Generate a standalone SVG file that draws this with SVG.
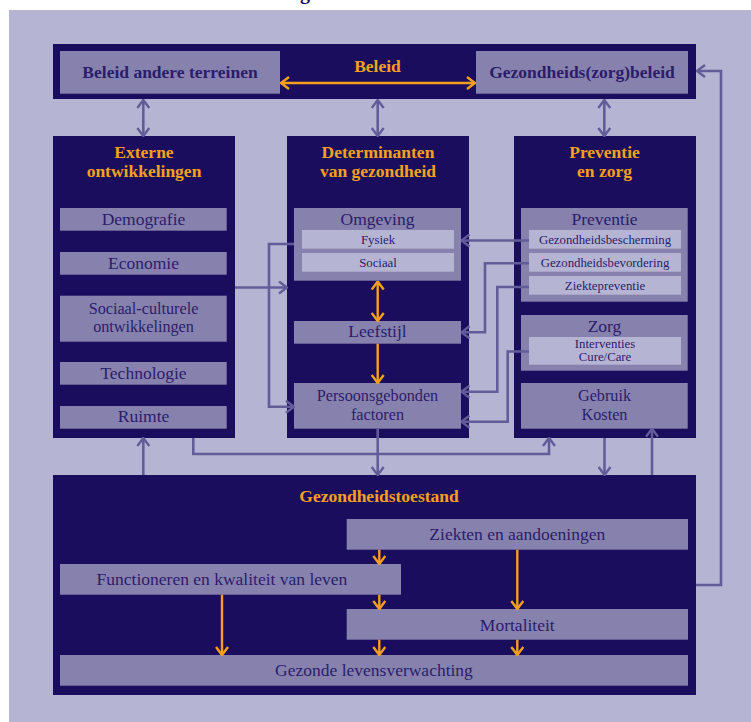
<svg xmlns="http://www.w3.org/2000/svg" width="751" height="722" viewBox="0 0 751 722">
<defs>
<style>
.bg{fill:#b6b4d3}
.dark{fill:#1b0d5e}
.mid{fill:#8781ad}
.light{fill:#b6b4d3}
.t{font-family:"Liberation Serif","Times New Roman",serif;fill:#2a1d6c;text-anchor:middle}
.tb{font-family:"Liberation Serif","Times New Roman",serif;font-weight:bold;text-anchor:middle}
.ttl{fill:#f5a01c}
.nav{fill:#2a1d6c}
.reg{font-size:17.5px}
.reg2{font-size:16.2px}
.sm{font-size:12.8px}
.ttlsz{font-size:17.5px}
.c{fill:none;stroke:#625c99;stroke-width:2.6}
.o{fill:none;stroke:#f5a01c;stroke-width:2.4}
</style>
<marker id="ah" viewBox="0 0 10 14" refX="9" refY="7" markerWidth="10" markerHeight="14" markerUnits="userSpaceOnUse" orient="auto-start-reverse">
<path d="M1,1 L9,7 L1,13" fill="none" stroke="#625c99" stroke-width="2.4"/>
</marker>
<marker id="oh" viewBox="0 0 10 14" refX="9" refY="7" markerWidth="10" markerHeight="14" markerUnits="userSpaceOnUse" orient="auto-start-reverse">
<path d="M1,1 L9,7 L1,13" fill="none" stroke="#f5a01c" stroke-width="2.4"/>
</marker>
</defs>

<rect x="0" y="0" width="751" height="722" fill="#ffffff"/>
<rect class="bg" x="9" y="10" width="742" height="712"/>
<text x="300" y="-1" font-family="Liberation Serif, serif" font-weight="bold" font-size="20" fill="#1b0d5e">g</text>

<g id="beleid">
<rect class="dark" x="53" y="44" width="643" height="55"/>
<text class="tb ttl ttlsz" x="377.5" y="72">Beleid</text>
</g>
<g id="beleid-andere-terreinen">
<rect class="mid" x="60" y="51" width="220" height="42.7"/>
<text class="tb nav ttlsz" x="170" y="77.5">Beleid andere terreinen</text>
</g>
<g id="gezondheidszorgbeleid">
<rect class="mid" x="476" y="51" width="212" height="42.7"/>
<text class="tb nav ttlsz" x="582" y="77.5">Gezondheids(zorg)beleid</text>
</g>

<g id="externe-ontwikkelingen">
<rect class="dark" x="53" y="136" width="182" height="302"/>
<text class="tb ttl ttlsz" x="144" y="158">Externe<tspan x="144" dy="18.5">ontwikkelingen</tspan></text>
<rect class="mid" x="60" y="208" width="166.7" height="22.7"/>
<text class="t reg" x="143.5" y="224.5">Demografie</text>
<rect class="mid" x="60" y="252" width="166.7" height="22.7"/>
<text class="t reg" x="143.5" y="268.5">Economie</text>
<rect class="mid" x="60" y="295.7" width="166.7" height="46"/>
<text class="t reg2" x="143.5" y="313.6">Sociaal-culturele<tspan x="143.5" dy="18.6">ontwikkelingen</tspan></text>
<rect class="mid" x="60" y="362" width="166.7" height="22.7"/>
<text class="t reg" x="143.5" y="378.5">Technologie</text>
<rect class="mid" x="60" y="406" width="166.7" height="22.7"/>
<text class="t reg" x="143.5" y="422">Ruimte</text>
</g>

<g id="determinanten">
<rect class="dark" x="287" y="136" width="182" height="302"/>
<text class="tb ttl ttlsz" x="378" y="158">Determinanten<tspan x="378" dy="18.5">van gezondheid</tspan></text>
</g>
<g id="omgeving">
<rect class="mid" x="294" y="208" width="167" height="72.7"/>
<text class="t reg" x="377.5" y="224.5">Omgeving</text>
<rect class="light" x="302" y="230" width="152" height="18.7"/>
<text class="t sm" x="378" y="243.5">Fysiek</text>
<rect class="light" x="302" y="253" width="152" height="18.7"/>
<text class="t sm" x="378" y="266.5">Sociaal</text>
</g>
<g id="leefstijl">
<rect class="mid" x="294" y="321" width="167" height="22.7"/>
<text class="t reg" x="377.5" y="337">Leefstijl</text>
</g>
<g id="persoonsgebonden-factoren">
<rect class="mid" x="294" y="383" width="167" height="45.7"/>
<text class="t reg2" x="377.5" y="401.4">Persoonsgebonden<tspan x="377.5" dy="18.6">factoren</tspan></text>
</g>

<g id="preventie-en-zorg">
<rect class="dark" x="514" y="136" width="182" height="302"/>
<text class="tb ttl ttlsz" x="604.5" y="158">Preventie<tspan x="604.5" dy="18.5">en zorg</tspan></text>
</g>
<g id="preventie">
<rect class="mid" x="521" y="208" width="166.7" height="93.7"/>
<text class="t reg" x="604.5" y="224.5">Preventie</text>
<rect class="light" x="529" y="230" width="152" height="18.7"/>
<text class="t sm" x="605" y="243.5">Gezondheidsbescherming</text>
<rect class="light" x="529" y="253" width="152" height="18.7"/>
<text class="t sm" x="605" y="266.5">Gezondheidsbevordering</text>
<rect class="light" x="529" y="276" width="152" height="18.7"/>
<text class="t sm" x="605" y="289.5">Ziektepreventie</text>
</g>
<g id="zorg">
<rect class="mid" x="521" y="315" width="166.7" height="55.7"/>
<text class="t reg" x="604.5" y="332">Zorg</text>
<rect class="light" x="529" y="337" width="152" height="27.7"/>
<text class="t sm" x="605" y="347.5">Interventies<tspan x="605" dy="13.5">Cure/Care</tspan></text>
</g>
<g id="gebruik-kosten">
<rect class="mid" x="521" y="383" width="166.7" height="45.7"/>
<text class="t reg2" x="604.5" y="401.4">Gebruik<tspan x="604.5" dy="18.6">Kosten</tspan></text>
</g>

<g id="gezondheidstoestand">
<rect class="dark" x="53" y="475" width="643" height="220"/>
<text class="tb ttl ttlsz" x="379" y="501.5">Gezondheidstoestand</text>
</g>
<g id="ziekten-en-aandoeningen">
<rect class="mid" x="346.7" y="519" width="341.3" height="30.7"/>
<text class="t reg" x="517.3" y="539.5">Ziekten en aandoeningen</text>
</g>
<g id="functioneren">
<rect class="mid" x="60" y="564" width="341" height="30.7"/>
<text class="t reg" x="222" y="585">Functioneren en kwaliteit van leven</text>
</g>
<g id="mortaliteit">
<rect class="mid" x="346.7" y="609" width="341.3" height="30.7"/>
<text class="t reg" x="517.3" y="631">Mortaliteit</text>
</g>
<g id="gezonde-levensverwachting">
<rect class="mid" x="60" y="655" width="628" height="30.7"/>
<text class="t reg" x="374" y="675.5">Gezonde levensverwachting</text>
</g>

<g id="connectors">
<path class="o" d="M281,83 H475" marker-start="url(#oh)" marker-end="url(#oh)"/>
<path class="c" d="M143.3,100 V136" marker-start="url(#ah)" marker-end="url(#ah)"/>
<path class="c" d="M377.7,100 V136" marker-start="url(#ah)" marker-end="url(#ah)"/>
<path class="c" d="M604.3,100 V136" marker-start="url(#ah)" marker-end="url(#ah)"/>
<path class="c" d="M696,585 H721 V71 H697" marker-end="url(#ah)"/>
<path class="c" d="M235,287.5 H287" marker-end="url(#ah)"/>
<path class="c" d="M294,244 H269 V406.7 H294" marker-end="url(#ah)"/>
<path class="c" d="M529,240.5 H461.5" marker-end="url(#ah)"/>
<path class="c" d="M529,263.3 H485 V332.3 H461.5" marker-end="url(#ah)"/>
<path class="c" d="M529,287 H497.3 V391.7 H461.5" marker-end="url(#ah)"/>
<path class="c" d="M529,351.5 H507.7 V421.7 H461.5" marker-end="url(#ah)"/>
<path class="c" d="M193.3,438 V454 H549 V438" marker-end="url(#ah)"/>
<path class="c" d="M143.3,475 V438" marker-end="url(#ah)"/>
<path class="c" d="M377.7,428.7 V475" marker-end="url(#ah)"/>
<path class="c" d="M604.5,438 V475" marker-end="url(#ah)"/>
<path class="c" d="M652,475 V428.7" marker-end="url(#ah)"/>
<path class="o" d="M377.7,281.5 V321" marker-start="url(#oh)" marker-end="url(#oh)"/>
<path class="o" d="M377.7,343.7 V383" marker-end="url(#oh)"/>
<path class="o" d="M379.3,549.7 V564" marker-end="url(#oh)"/>
<path class="o" d="M379.3,594.7 V609" marker-end="url(#oh)"/>
<path class="o" d="M379.3,639.7 V655" marker-end="url(#oh)"/>
<path class="o" d="M517.3,549.7 V609" marker-end="url(#oh)"/>
<path class="o" d="M517.3,639.7 V655" marker-end="url(#oh)"/>
<path class="o" d="M222,594.7 V655" marker-end="url(#oh)"/>
</g>
</svg>
